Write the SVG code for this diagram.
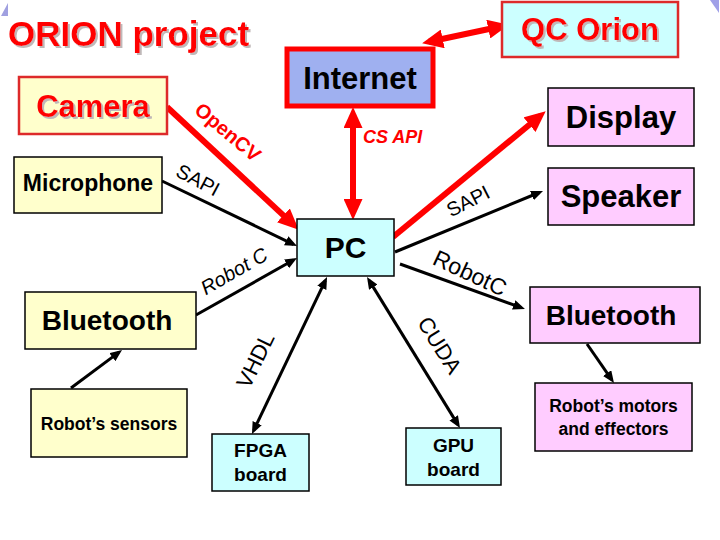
<svg xmlns="http://www.w3.org/2000/svg" width="720" height="540" viewBox="0 0 720 540">
<style>
text{font-family:"Liberation Sans",Arial,sans-serif;}
.b{font-weight:bold;}
.red{fill:#ff0000;}
.shd{filter:url(#shadow);}
.mid{text-anchor:middle;}
.yel{fill:#ffffcc;}
.cyan{fill:#ccffff;}
.pink{fill:#ffccff;}
.bk{stroke:#000;stroke-width:1.5;}
.rb{stroke:#dd2a2a;stroke-width:2.5;}
.lr{stroke:#ff0000;stroke-width:6;fill:none;}
.lb{stroke:#000;stroke-width:3;fill:none;}
</style>
<defs>
<filter id="shadow" x="-10%" y="-10%" width="120%" height="130%"><feDropShadow dx="2" dy="2" stdDeviation="0.4" flood-color="#c0b8b8" flood-opacity="1"/></filter>
<marker id="ar" viewBox="0 0 21 19" refX="14" refY="9.5" markerWidth="21" markerHeight="19" markerUnits="userSpaceOnUse" orient="auto-start-reverse"><path d="M0,0 L21,9.5 L0,19 z" fill="#ff0000"/></marker>
<marker id="ab" viewBox="0 0 12 10" refX="8" refY="5" markerWidth="12" markerHeight="10" markerUnits="userSpaceOnUse" orient="auto-start-reverse"><path d="M0,0 L12,5 L0,10 z" fill="#000"/></marker>
</defs>
<rect width="720" height="540" fill="#fff"/>
<polygon points="8,3 8,16 1,16" fill="#a0a0e0"/>
<polygon points="710,0 719,0 719,13" fill="#a0a0e8"/>

<text class="b red shd" x="8" y="46" font-size="35">ORION project</text>

<g id="connectors">
<line class="lr" x1="429" y1="41.8" x2="502" y2="26.2" marker-start="url(#ar)" marker-end="url(#ar)"/>
<line class="lr" x1="353" y1="114" x2="353" y2="213" marker-start="url(#ar)" marker-end="url(#ar)"/>
<line class="lr" x1="167" y1="107" x2="293.6" y2="224.9" marker-end="url(#ar)"/>
<line class="lr" x1="393" y1="237" x2="540.3" y2="115.8" marker-end="url(#ar)"/>
<line class="lb" x1="162" y1="181" x2="293.4" y2="244.3" marker-end="url(#ab)"/>
<line class="lb" x1="196" y1="315" x2="293.5" y2="260" marker-end="url(#ab)"/>
<line class="lb" x1="395" y1="252" x2="539.3" y2="192.5" marker-end="url(#ab)"/>
<line class="lb" x1="400" y1="264" x2="521.2" y2="307.6" marker-end="url(#ab)"/>
<line class="lb" x1="253.7" y1="430.4" x2="325.3" y2="280.6" marker-start="url(#ab)" marker-end="url(#ab)"/>
<line class="lb" x1="457.9" y1="424.6" x2="369.1" y2="280.4" marker-start="url(#ab)" marker-end="url(#ab)"/>
<line class="lb" x1="71" y1="388" x2="118.8" y2="352.4" marker-end="url(#ab)"/>
<line class="lb" x1="587" y1="344" x2="611.7" y2="379.7" marker-end="url(#ab)"/>
<text class="b red" x="363" y="143" font-size="18" font-style="italic">CS API</text>
<text class="b red mid" font-size="20" transform="translate(228,132) rotate(40)" y="7">OpenCV</text>
<text class="mid" font-size="20" transform="translate(198,180) rotate(28)" y="7">SAPI</text>
<text class="mid" font-size="20" transform="translate(468,201) rotate(-27)" y="7">SAPI</text>
<text class="mid" font-size="23" transform="translate(470,273) rotate(25)" y="8">RobotC</text>
<text class="mid" font-size="20" font-style="italic" transform="translate(234,271) rotate(-30)" y="7">Robot C</text>
<text class="mid" font-size="22" transform="translate(255,360) rotate(-64)" y="8">VHDL</text>
<text class="mid" font-size="22" transform="translate(440,345) rotate(58)" y="8">CUDA</text>
</g>

<g id="camera">
<rect x="19" y="77" width="148" height="57" class="yel rb"/>
<text class="b red mid shd" x="93" y="117" font-size="31">Camera</text>
</g>
<g id="microphone">
<rect x="14" y="157" width="148" height="56" class="yel bk"/>
<text class="b mid" x="88" y="191" font-size="23">Microphone</text>
</g>
<g id="internet">
<rect x="287" y="49" width="146" height="57" fill="#9fb0f0" stroke="#ff0000" stroke-width="5"/>
<text class="b mid" x="360" y="89" font-size="31">Internet</text>
</g>
<g id="qc-orion">
<rect x="502" y="2" width="176" height="55" class="cyan rb"/>
<text class="b red mid shd" x="590" y="40" font-size="31">QC Orion</text>
</g>
<g id="display">
<rect x="548" y="88" width="146" height="58" class="pink bk"/>
<text class="b mid" x="621" y="128" font-size="31">Display</text>
</g>
<g id="speaker">
<rect x="548" y="168" width="146" height="57" class="pink bk"/>
<text class="b mid" x="621" y="207" font-size="31">Speaker</text>
</g>
<g id="pc">
<rect x="297" y="219" width="97" height="57" class="cyan bk"/>
<text class="b mid" x="345.5" y="258" font-size="30">PC</text>
</g>
<g id="bluetooth-left">
<rect x="25" y="292" width="171" height="57" class="yel bk"/>
<text class="b mid" x="107" y="330" font-size="28">Bluetooth</text>
</g>
<g id="robot-sensors">
<rect x="31" y="389" width="156" height="68" class="yel bk"/>
<text class="b mid" x="109" y="430" font-size="17.5">Robot’s sensors</text>
</g>
<g id="fpga">
<rect x="212" y="434" width="97" height="57" class="cyan bk"/>
<text class="b mid" x="260.5" y="457" font-size="19">FPGA</text>
<text class="b mid" x="260.5" y="481" font-size="19">board</text>
</g>
<g id="gpu">
<rect x="406" y="428" width="95" height="57" class="cyan bk"/>
<text class="b mid" x="453.5" y="452" font-size="19">GPU</text>
<text class="b mid" x="453.5" y="476" font-size="19">board</text>
</g>
<g id="bluetooth-right">
<rect x="530" y="287" width="170" height="56" class="pink bk"/>
<text class="b mid" x="611" y="325" font-size="28">Bluetooth</text>
</g>
<g id="robot-motors">
<rect x="535" y="383" width="157" height="68" class="pink bk"/>
<text class="b mid" x="613.5" y="412" font-size="17.5">Robot’s motors</text>
<text class="b mid" x="613.5" y="435" font-size="17.5">and effectors</text>
</g>
</svg>
